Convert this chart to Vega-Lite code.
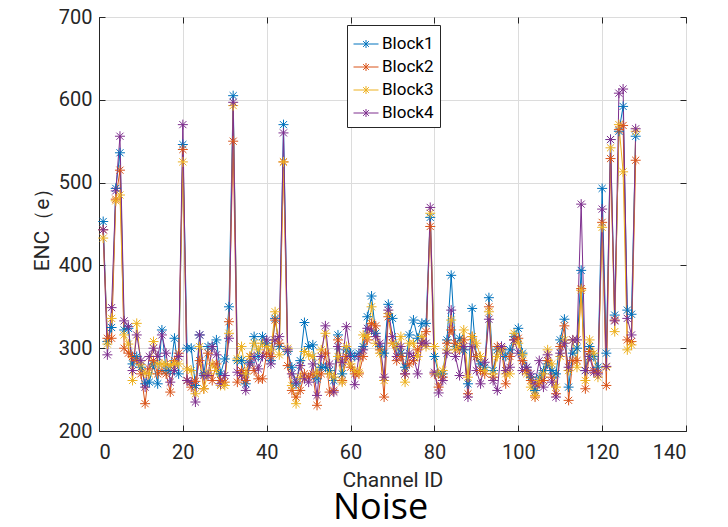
{
  "$schema": "https://vega.github.io/schema/vega-lite/v6.json",
  "width": 587,
  "height": 414,
  "autosize": "none",
  "padding": {"left": 99, "top": 17, "right": 42, "bottom": 96},
  "background": "white",
  "title": {"text": "Noise", "orient": "bottom", "font": "Open Sans", "fontSize": 36, "fontWeight": "normal", "color": "black", "baseline": "alphabetic", "offset": 29, "dx": -12},
  "config": {
    "view": {"stroke": "#262626", "strokeWidth": 1},
    "axis": {"labelFont": "Roboto", "titleFont": "Roboto", "labelColor": "#262626", "titleColor": "#262626", "domainColor": "#262626", "tickColor": "#262626", "gridColor": "#dcdcdc", "gridWidth": 1, "titleFontWeight": "normal"}
  },
  "data": {"values": [
    {"ch":1,"Block1":453,"Block2":443,"Block3":433,"Block4":443},
    {"ch":2,"Block1":308,"Block2":312,"Block3":305,"Block4":292},
    {"ch":3,"Block1":325,"Block2":312,"Block3":336,"Block4":349},
    {"ch":4,"Block1":493,"Block2":480,"Block3":478,"Block4":490},
    {"ch":5,"Block1":536,"Block2":515,"Block3":485,"Block4":556},
    {"ch":6,"Block1":322,"Block2":300,"Block3":316,"Block4":333},
    {"ch":7,"Block1":324,"Block2":294,"Block3":305,"Block4":326},
    {"ch":8,"Block1":281,"Block2":290,"Block3":261,"Block4":273},
    {"ch":9,"Block1":290,"Block2":285,"Block3":330,"Block4":316},
    {"ch":10,"Block1":277,"Block2":269,"Block3":280,"Block4":285},
    {"ch":11,"Block1":257,"Block2":233,"Block3":270,"Block4":253},
    {"ch":12,"Block1":259,"Block2":275,"Block3":269,"Block4":290},
    {"ch":13,"Block1":281,"Block2":285,"Block3":308,"Block4":300},
    {"ch":14,"Block1":257,"Block2":269,"Block3":281,"Block4":290},
    {"ch":15,"Block1":322,"Block2":273,"Block3":281,"Block4":316},
    {"ch":16,"Block1":273,"Block2":269,"Block3":281,"Block4":294},
    {"ch":17,"Block1":273,"Block2":247,"Block3":279,"Block4":259},
    {"ch":18,"Block1":312,"Block2":285,"Block3":281,"Block4":273},
    {"ch":19,"Block1":269,"Block2":294,"Block3":281,"Block4":290},
    {"ch":20,"Block1":546,"Block2":540,"Block3":525,"Block4":570},
    {"ch":21,"Block1":300,"Block2":261,"Block3":275,"Block4":261},
    {"ch":22,"Block1":300,"Block2":253,"Block3":273,"Block4":259},
    {"ch":23,"Block1":255,"Block2":260,"Block3":245,"Block4":235},
    {"ch":24,"Block1":316,"Block2":285,"Block3":302,"Block4":316},
    {"ch":25,"Block1":269,"Block2":251,"Block3":251,"Block4":267},
    {"ch":26,"Block1":302,"Block2":294,"Block3":269,"Block4":267},
    {"ch":27,"Block1":302,"Block2":261,"Block3":281,"Block4":302},
    {"ch":28,"Block1":310,"Block2":281,"Block3":273,"Block4":292},
    {"ch":29,"Block1":269,"Block2":261,"Block3":255,"Block4":257},
    {"ch":30,"Block1":287,"Block2":259,"Block3":255,"Block4":267},
    {"ch":31,"Block1":350,"Block2":332,"Block3":318,"Block4":312},
    {"ch":32,"Block1":605,"Block2":550,"Block3":593,"Block4":597},
    {"ch":33,"Block1":285,"Block2":259,"Block3":287,"Block4":271},
    {"ch":34,"Block1":285,"Block2":273,"Block3":302,"Block4":267},
    {"ch":35,"Block1":257,"Block2":261,"Block3":269,"Block4":249},
    {"ch":36,"Block1":283,"Block2":290,"Block3":290,"Block4":281},
    {"ch":37,"Block1":314,"Block2":273,"Block3":306,"Block4":290},
    {"ch":38,"Block1":290,"Block2":263,"Block3":298,"Block4":275},
    {"ch":39,"Block1":314,"Block2":263,"Block3":306,"Block4":290},
    {"ch":40,"Block1":306,"Block2":294,"Block3":302,"Block4":310},
    {"ch":41,"Block1":285,"Block2":290,"Block3":298,"Block4":281},
    {"ch":42,"Block1":336,"Block2":334,"Block3":344,"Block4":310},
    {"ch":43,"Block1":302,"Block2":306,"Block3":292,"Block4":314},
    {"ch":44,"Block1":570,"Block2":525,"Block3":525,"Block4":560},
    {"ch":45,"Block1":296,"Block2":279,"Block3":300,"Block4":298},
    {"ch":46,"Block1":277,"Block2":249,"Block3":255,"Block4":269},
    {"ch":47,"Block1":257,"Block2":241,"Block3":233,"Block4":259},
    {"ch":48,"Block1":285,"Block2":249,"Block3":265,"Block4":279},
    {"ch":49,"Block1":331,"Block2":269,"Block3":296,"Block4":263},
    {"ch":50,"Block1":302,"Block2":265,"Block3":292,"Block4":259},
    {"ch":51,"Block1":304,"Block2":269,"Block3":290,"Block4":281},
    {"ch":52,"Block1":263,"Block2":231,"Block3":269,"Block4":243},
    {"ch":53,"Block1":277,"Block2":269,"Block3":298,"Block4":290},
    {"ch":54,"Block1":277,"Block2":294,"Block3":318,"Block4":327},
    {"ch":55,"Block1":273,"Block2":247,"Block3":269,"Block4":281},
    {"ch":56,"Block1":261,"Block2":249,"Block3":265,"Block4":247},
    {"ch":57,"Block1":316,"Block2":310,"Block3":290,"Block4":302},
    {"ch":58,"Block1":269,"Block2":261,"Block3":259,"Block4":283},
    {"ch":59,"Block1":298,"Block2":290,"Block3":302,"Block4":326},
    {"ch":60,"Block1":294,"Block2":277,"Block3":281,"Block4":290},
    {"ch":61,"Block1":290,"Block2":269,"Block3":273,"Block4":256},
    {"ch":62,"Block1":294,"Block2":269,"Block3":271,"Block4":290},
    {"ch":63,"Block1":302,"Block2":290,"Block3":316,"Block4":298},
    {"ch":64,"Block1":338,"Block2":310,"Block3":314,"Block4":324},
    {"ch":65,"Block1":363,"Block2":330,"Block3":350,"Block4":322},
    {"ch":66,"Block1":318,"Block2":327,"Block3":306,"Block4":314},
    {"ch":67,"Block1":302,"Block2":298,"Block3":294,"Block4":306},
    {"ch":68,"Block1":294,"Block2":241,"Block3":261,"Block4":265},
    {"ch":69,"Block1":353,"Block2":338,"Block3":342,"Block4":346},
    {"ch":70,"Block1":336,"Block2":306,"Block3":306,"Block4":314},
    {"ch":71,"Block1":302,"Block2":285,"Block3":302,"Block4":290},
    {"ch":72,"Block1":294,"Block2":290,"Block3":314,"Block4":302},
    {"ch":73,"Block1":277,"Block2":269,"Block3":259,"Block4":269},
    {"ch":74,"Block1":316,"Block2":281,"Block3":306,"Block4":294},
    {"ch":75,"Block1":334,"Block2":285,"Block3":306,"Block4":290},
    {"ch":76,"Block1":312,"Block2":298,"Block3":290,"Block4":269},
    {"ch":77,"Block1":330,"Block2":306,"Block3":314,"Block4":306},
    {"ch":78,"Block1":330,"Block2":320,"Block3":302,"Block4":306},
    {"ch":79,"Block1":458,"Block2":447,"Block3":463,"Block4":470},
    {"ch":80,"Block1":290,"Block2":269,"Block3":302,"Block4":271},
    {"ch":81,"Block1":269,"Block2":253,"Block3":269,"Block4":246},
    {"ch":82,"Block1":269,"Block2":265,"Block3":273,"Block4":261},
    {"ch":83,"Block1":310,"Block2":306,"Block3":298,"Block4":294},
    {"ch":84,"Block1":388,"Block2":322,"Block3":334,"Block4":346},
    {"ch":85,"Block1":302,"Block2":306,"Block3":298,"Block4":290},
    {"ch":86,"Block1":312,"Block2":298,"Block3":302,"Block4":267},
    {"ch":87,"Block1":298,"Block2":310,"Block3":322,"Block4":302},
    {"ch":88,"Block1":257,"Block2":245,"Block3":265,"Block4":241},
    {"ch":89,"Block1":348,"Block2":314,"Block3":314,"Block4":302},
    {"ch":90,"Block1":290,"Block2":290,"Block3":306,"Block4":273},
    {"ch":91,"Block1":281,"Block2":273,"Block3":290,"Block4":257},
    {"ch":92,"Block1":277,"Block2":269,"Block3":273,"Block4":283},
    {"ch":93,"Block1":361,"Block2":350,"Block3":344,"Block4":335},
    {"ch":94,"Block1":273,"Block2":265,"Block3":269,"Block4":261},
    {"ch":95,"Block1":298,"Block2":302,"Block3":290,"Block4":249},
    {"ch":96,"Block1":302,"Block2":300,"Block3":298,"Block4":302},
    {"ch":97,"Block1":290,"Block2":257,"Block3":269,"Block4":273},
    {"ch":98,"Block1":298,"Block2":290,"Block3":269,"Block4":277},
    {"ch":99,"Block1":314,"Block2":310,"Block3":318,"Block4":310},
    {"ch":100,"Block1":324,"Block2":312,"Block3":306,"Block4":294},
    {"ch":101,"Block1":294,"Block2":285,"Block3":292,"Block4":273},
    {"ch":102,"Block1":277,"Block2":273,"Block3":269,"Block4":277},
    {"ch":103,"Block1":265,"Block2":261,"Block3":253,"Block4":269},
    {"ch":104,"Block1":249,"Block2":241,"Block3":243,"Block4":257},
    {"ch":105,"Block1":265,"Block2":257,"Block3":261,"Block4":285},
    {"ch":106,"Block1":273,"Block2":261,"Block3":269,"Block4":253},
    {"ch":107,"Block1":281,"Block2":285,"Block3":298,"Block4":292},
    {"ch":108,"Block1":273,"Block2":265,"Block3":281,"Block4":259},
    {"ch":109,"Block1":269,"Block2":245,"Block3":253,"Block4":241},
    {"ch":110,"Block1":310,"Block2":302,"Block3":290,"Block4":294},
    {"ch":111,"Block1":335,"Block2":327,"Block3":310,"Block4":306},
    {"ch":112,"Block1":253,"Block2":237,"Block3":273,"Block4":277},
    {"ch":113,"Block1":294,"Block2":285,"Block3":310,"Block4":310},
    {"ch":114,"Block1":300,"Block2":285,"Block3":277,"Block4":310},
    {"ch":115,"Block1":394,"Block2":372,"Block3":370,"Block4":474},
    {"ch":116,"Block1":273,"Block2":251,"Block3":261,"Block4":273},
    {"ch":117,"Block1":302,"Block2":296,"Block3":310,"Block4":290},
    {"ch":118,"Block1":290,"Block2":273,"Block3":294,"Block4":271},
    {"ch":119,"Block1":277,"Block2":271,"Block3":265,"Block4":269},
    {"ch":120,"Block1":493,"Block2":452,"Block3":446,"Block4":468},
    {"ch":121,"Block1":294,"Block2":255,"Block3":277,"Block4":278},
    {"ch":122,"Block1":552,"Block2":529,"Block3":542,"Block4":552},
    {"ch":123,"Block1":340,"Block2":334,"Block3":320,"Block4":333},
    {"ch":124,"Block1":562,"Block2":564,"Block3":570,"Block4":608},
    {"ch":125,"Block1":592,"Block2":569,"Block3":513,"Block4":613},
    {"ch":126,"Block1":346,"Block2":310,"Block3":298,"Block4":336},
    {"ch":127,"Block1":341,"Block2":308,"Block3":304,"Block4":316},
    {"ch":128,"Block1":556,"Block2":527,"Block3":562,"Block4":565}
  ]},
  "transform": [{"fold": ["Block1", "Block2", "Block3", "Block4"], "as": ["block", "enc"]}],
  "layer": [
    {
      "mark": {"type": "line", "strokeWidth": 1},
      "encoding": {
        "x": {"field": "ch", "type": "quantitative", "scale": {"domain": [0, 140], "nice": false, "zero": false},
              "axis": {"orient": "bottom", "title": "Channel ID", "values": [0, 20, 40, 60, 80, 100, 120, 140], "labelFontSize": 20, "titleFontSize": 21, "tickSize": -6, "labelPadding": 17, "titlePadding": 7, "grid": true}},
        "y": {"field": "enc", "type": "quantitative", "scale": {"domain": [200, 700], "nice": false, "zero": false},
              "axis": {"orient": "left", "title": "ENC（e）", "values": [200, 300, 400, 500, 600, 700], "labelFontSize": 20, "titleFontSize": 21, "tickSize": -6, "labelPadding": 13, "titlePadding": 6, "grid": true}},
        "color": {"field": "block", "type": "nominal",
                  "scale": {"domain": ["Block1", "Block2", "Block3", "Block4"], "range": ["#0072BD", "#D95319", "#EDB120", "#7E2F8E"]},
                  "legend": {"title": null, "orient": "none", "legendX": 248, "legendY": 8, "fillColor": "white", "strokeColor": "#262626", "padding": 6,
                             "symbolType": "M-1,0L1,0M0,-0.32L0,0.32M-0.23,-0.23L0.23,0.23M-0.23,0.23L0.23,-0.23",
                             "symbolSize": 625, "symbolStrokeWidth": 1, "labelFont": "Roboto", "labelFontSize": 17, "labelColor": "black", "labelOffset": 3, "rowPadding": 2}}
      }
    },
    {
      "mark": {"type": "point", "filled": false, "strokeWidth": 1, "size": 100, "opacity": 1, "shape": "M-1,0L1,0M0,-1L0,1M-0.71,-0.71L0.71,0.71M-0.71,0.71L0.71,-0.71"},
      "encoding": {
        "x": {"field": "ch", "type": "quantitative", "scale": {"domain": [0, 140], "nice": false, "zero": false},
              "axis": {"orient": "top", "title": null, "labels": false, "grid": false, "domain": false, "values": [0, 20, 40, 60, 80, 100, 120, 140], "tickSize": -6}},
        "y": {"field": "enc", "type": "quantitative", "scale": {"domain": [200, 700], "nice": false, "zero": false},
              "axis": {"orient": "right", "title": null, "labels": false, "grid": false, "domain": false, "values": [200, 300, 400, 500, 600, 700], "tickSize": -6}},
        "color": {"field": "block", "type": "nominal"}
      }
    }
  ],
  "resolve": {"axis": {"x": "independent", "y": "independent"}}
}
